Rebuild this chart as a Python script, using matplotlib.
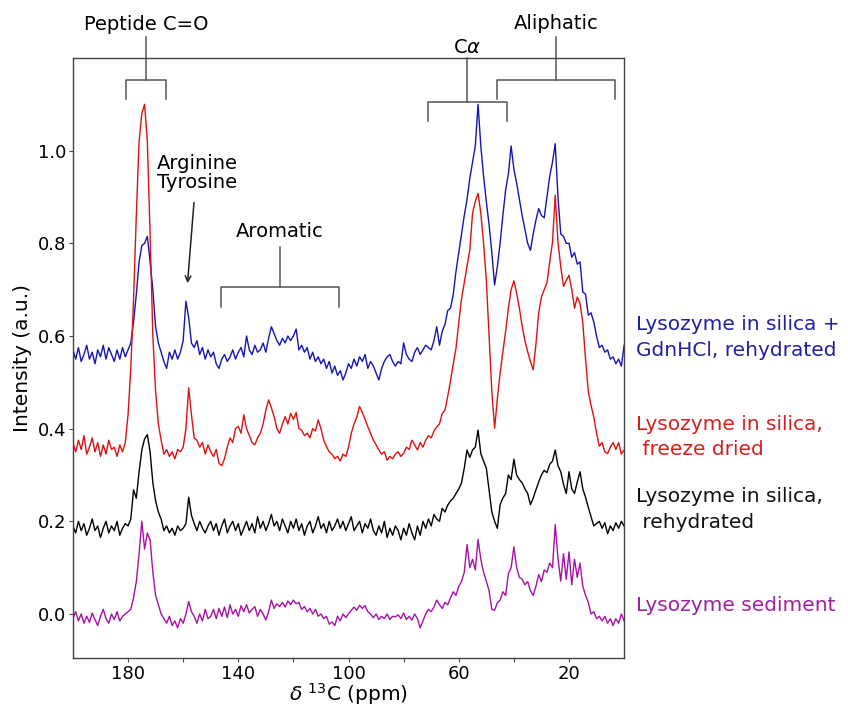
import numpy as np
import matplotlib
matplotlib.use("Agg")
import matplotlib.pyplot as plt
import matplotlib.transforms as mtransforms

plt.rcParams['font.family'] = ['DejaVu Sans']

# chemical shift grid (ppm), 200 -> 0
ppm = np.arange(200, -1, -1)

gdn_rehydrated = [
    0.57, 0.55, 0.575, 0.545, 0.56, 0.58, 0.55, 0.565, 0.54, 0.57,
    0.555, 0.58, 0.55, 0.575, 0.56, 0.545, 0.57, 0.55, 0.575, 0.555,
    0.57, 0.585, 0.63, 0.69, 0.76, 0.795, 0.80, 0.815, 0.76, 0.70,
    0.62, 0.585, 0.565, 0.545, 0.53, 0.565, 0.55, 0.57, 0.55, 0.565,
    0.59, 0.675, 0.64, 0.585, 0.575, 0.59, 0.56, 0.575, 0.55, 0.57,
    0.555, 0.565, 0.54, 0.53, 0.55, 0.56, 0.545, 0.555, 0.57, 0.55,
    0.565, 0.575, 0.555, 0.60, 0.57, 0.56, 0.58, 0.565, 0.57, 0.585,
    0.565, 0.595, 0.62, 0.605, 0.59, 0.58, 0.595, 0.585, 0.60, 0.59,
    0.60, 0.615, 0.57, 0.58, 0.565, 0.575, 0.55, 0.565, 0.545, 0.555,
    0.54, 0.55, 0.53, 0.545, 0.52, 0.535, 0.515, 0.525, 0.505, 0.52,
    0.54, 0.53, 0.55, 0.535, 0.555, 0.545, 0.56, 0.53, 0.545, 0.535,
    0.52, 0.505, 0.53, 0.545, 0.555, 0.56, 0.545, 0.535, 0.545, 0.54,
    0.585, 0.56, 0.55, 0.545, 0.565, 0.575, 0.56, 0.57, 0.58, 0.575,
    0.57, 0.59, 0.62, 0.58, 0.61, 0.625, 0.655, 0.66, 0.69, 0.74,
    0.78, 0.82, 0.86, 0.895, 0.94, 0.975, 1.01, 1.10, 1.01, 0.945,
    0.89, 0.84, 0.78, 0.71, 0.75, 0.80, 0.86, 0.915, 0.95, 1.01,
    0.96, 0.93, 0.895, 0.86, 0.83, 0.80, 0.785, 0.82, 0.85, 0.875,
    0.86, 0.855, 0.90, 0.945, 0.975, 1.015, 0.90, 0.82, 0.815, 0.80,
    0.80, 0.77, 0.78, 0.755, 0.76, 0.695, 0.69, 0.645, 0.65, 0.63,
    0.60, 0.575, 0.58, 0.565, 0.57, 0.55, 0.555, 0.54, 0.55, 0.535,
    0.58,
]

freeze_dried = [
    0.37, 0.35, 0.375, 0.355, 0.385, 0.345, 0.36, 0.38, 0.35, 0.37,
    0.34, 0.365, 0.345, 0.375, 0.355, 0.36, 0.34, 0.365, 0.35, 0.37,
    0.43, 0.53, 0.68, 0.86, 1.02, 1.08, 1.10, 1.02, 0.82, 0.60,
    0.48, 0.41, 0.375, 0.345, 0.355, 0.34, 0.35, 0.335, 0.355, 0.35,
    0.36, 0.40, 0.488, 0.43, 0.38, 0.375, 0.36, 0.37, 0.345, 0.365,
    0.35, 0.34, 0.355, 0.325, 0.32, 0.335, 0.36, 0.38, 0.37, 0.40,
    0.405, 0.39, 0.43, 0.40, 0.385, 0.37, 0.365, 0.38, 0.39, 0.41,
    0.44, 0.462, 0.445, 0.426, 0.40, 0.39, 0.41, 0.426, 0.41, 0.433,
    0.42, 0.435, 0.40, 0.397, 0.385, 0.39, 0.38, 0.40, 0.395, 0.419,
    0.40, 0.375, 0.361, 0.35, 0.345, 0.335, 0.34, 0.33, 0.345, 0.34,
    0.36, 0.39, 0.41, 0.425, 0.448, 0.435, 0.42, 0.404, 0.39, 0.375,
    0.365, 0.354, 0.345, 0.35, 0.332, 0.34, 0.335, 0.345, 0.35, 0.34,
    0.347, 0.36, 0.355, 0.375, 0.365, 0.354, 0.37, 0.36, 0.375, 0.385,
    0.38, 0.395, 0.404, 0.41, 0.433, 0.44, 0.47, 0.503, 0.54, 0.574,
    0.629, 0.68, 0.715, 0.75, 0.786, 0.865, 0.89, 0.908, 0.865, 0.80,
    0.72, 0.60, 0.48, 0.401, 0.464, 0.52, 0.566, 0.61, 0.66, 0.70,
    0.719, 0.692, 0.66, 0.621, 0.59, 0.566, 0.545, 0.527, 0.582, 0.65,
    0.684, 0.70, 0.715, 0.76, 0.802, 0.904, 0.802, 0.75, 0.707, 0.72,
    0.731, 0.70, 0.66, 0.684, 0.67, 0.629, 0.55, 0.48, 0.45, 0.425,
    0.39, 0.362, 0.37, 0.35, 0.346, 0.36, 0.37, 0.355, 0.37, 0.345,
    0.354,
]

silica_rehydrated = [
    0.19, 0.175, 0.2, 0.18, 0.195, 0.17, 0.185, 0.205, 0.18, 0.19,
    0.165, 0.185, 0.2, 0.175, 0.19, 0.18, 0.2, 0.17, 0.185, 0.195,
    0.19, 0.205, 0.268, 0.25, 0.307, 0.354, 0.378, 0.387, 0.35, 0.283,
    0.244, 0.22, 0.205, 0.18, 0.19, 0.175, 0.185, 0.17, 0.19, 0.18,
    0.185, 0.195, 0.252, 0.213, 0.195, 0.18, 0.2, 0.185, 0.175, 0.19,
    0.2, 0.18, 0.195, 0.17, 0.19, 0.205, 0.175, 0.19, 0.2, 0.18,
    0.195, 0.17, 0.185, 0.2, 0.18, 0.195, 0.175, 0.21, 0.185, 0.2,
    0.18, 0.195, 0.215, 0.19, 0.2, 0.18, 0.205, 0.19, 0.175, 0.2,
    0.185, 0.205, 0.18, 0.195, 0.17, 0.19, 0.2, 0.175, 0.19, 0.21,
    0.185, 0.195, 0.175, 0.2, 0.18, 0.19, 0.205, 0.185, 0.2, 0.18,
    0.195, 0.21, 0.18, 0.19, 0.2, 0.175, 0.195, 0.185, 0.205, 0.18,
    0.17, 0.19, 0.175, 0.2, 0.165, 0.185, 0.17, 0.19, 0.18, 0.16,
    0.185, 0.17, 0.195, 0.175, 0.16, 0.19, 0.17, 0.2, 0.185, 0.205,
    0.19, 0.215, 0.205, 0.2, 0.228, 0.22, 0.235, 0.244, 0.25, 0.26,
    0.27, 0.283, 0.315, 0.354, 0.338, 0.354, 0.36, 0.397, 0.346, 0.33,
    0.315, 0.268, 0.22, 0.2, 0.185, 0.236, 0.25, 0.26, 0.3, 0.29,
    0.334, 0.3, 0.29, 0.283, 0.27, 0.26, 0.236, 0.25, 0.268, 0.285,
    0.3, 0.31, 0.305, 0.323, 0.33, 0.354, 0.32, 0.307, 0.28, 0.26,
    0.307, 0.27, 0.26, 0.285, 0.307, 0.27, 0.252, 0.23, 0.21, 0.19,
    0.195, 0.2, 0.185, 0.197, 0.173, 0.19, 0.18, 0.197, 0.185, 0.2,
    0.19,
]

sediment = [
    -0.01, 0.005, -0.015, 0.0, -0.02, -0.005, -0.018, 0.002, -0.012, -0.025,
    -0.005, 0.01, -0.01, -0.02, 0.0, -0.012, 0.005, -0.015, -0.005, 0.0,
    0.005, 0.01, 0.035, 0.07, 0.13, 0.20, 0.14, 0.175, 0.16, 0.09,
    0.04, 0.02, 0.0, -0.01, -0.02, -0.005, -0.025, -0.015, -0.03, -0.01,
    -0.02, 0.0, 0.027, 0.005, -0.005, -0.02, 0.0, -0.015, 0.01, -0.01,
    -0.005, 0.01, -0.01, 0.012, -0.005, 0.015, -0.008, 0.02, 0.0, 0.01,
    -0.005, 0.018, 0.005, 0.02, 0.002, 0.01, 0.016, -0.005, 0.01, 0.0,
    -0.013, 0.005, 0.03, 0.012, 0.022, 0.016, 0.025, 0.015, 0.028, 0.02,
    0.03, 0.022, 0.025, 0.01, 0.016, 0.005, 0.012, 0.0, 0.01, -0.005,
    0.0, -0.01, -0.005, -0.022, -0.017, -0.025, -0.005, -0.015, 0.0, -0.008,
    0.0, 0.008, 0.015, 0.008, 0.019, 0.012, 0.018, 0.005, 0.0, -0.008,
    0.0, -0.012, -0.005, -0.01, 0.0, -0.012, -0.005, -0.006, -0.002, -0.01,
    0.002, -0.012, -0.005, -0.013, 0.0, -0.01, -0.03, -0.015, 0.0, 0.01,
    0.005, 0.015, 0.03, 0.02, 0.012, 0.025, 0.02, 0.035, 0.048, 0.04,
    0.06, 0.07, 0.09, 0.15, 0.10, 0.118, 0.095, 0.161, 0.118, 0.09,
    0.071, 0.05, 0.01, 0.008, 0.024, 0.03, 0.048, 0.04, 0.087, 0.1,
    0.145, 0.1, 0.079, 0.075, 0.063, 0.07, 0.05, 0.04, 0.06, 0.085,
    0.07, 0.095, 0.09, 0.11, 0.1, 0.193, 0.12, 0.071, 0.13, 0.075,
    0.134, 0.063, 0.118, 0.079, 0.11, 0.06, 0.04, 0.025, 0.0, 0.005,
    -0.01, -0.005, -0.015, -0.005, -0.02, -0.01, -0.025, -0.01, -0.02, 0.0,
    -0.015,
]

series_names = ["Lysozyme in silica +\nGdnHCl, rehydrated",
                "Lysozyme in silica,\n freeze dried",
                "Lysozyme in silica,\n rehydrated",
                "Lysozyme sediment"]
series_label_y = [0.596, 0.382, 0.225, 0.019]
x_tick_values = [180, 160, 140, 120, 100, 80, 60, 40, 20]
x_tick_labels = ["180", "", "140", "", "100", "", "60", "", "20"]
y_tick_values = [0.0, 0.2, 0.4, 0.6, 0.8, 1.0]

line_colors = ["#1414b4", "#e01010", "#000000", "#a810a8"]
text_colors = ["#2020a0", "#d42020", "#111111", "#a020a0"]

fig = plt.figure(figsize=(8.48, 7.07), dpi=100)
ax = fig.add_axes([0.086, 0.0693, 0.650, 0.8487])

for vals, c in zip([gdn_rehydrated, freeze_dried, silica_rehydrated, sediment], line_colors):
    ax.plot(ppm, vals, color=c, lw=1.0)

ax.set_xlim(200, 0)
ax.set_ylim(-0.095, 1.20)
ax.set_xticks(x_tick_values)
ax.set_xticklabels(x_tick_labels)
ax.set_yticks(y_tick_values)
ax.set_yticklabels([f"{v:.1f}" for v in y_tick_values])
ax.tick_params(labelsize=13, length=3.0, color="#444444", pad=2)
for s in ax.spines.values():
    s.set_color("#444444")
    s.set_linewidth(1.0)

ax.set_xlabel(r"$\delta$ $^{13}$C (ppm)", fontsize=14.5, labelpad=-1)
ax.set_ylabel("Intensity (a.u.)", fontsize=14.5, labelpad=4)

trans = mtransforms.blended_transform_factory(ax.transAxes, ax.transData)
for name, yy, c in zip(series_names, series_label_y, text_colors):
    ax.text(1.022, yy, name, transform=trans, color=c, fontsize=14.5,
            ha="left", va="center", linespacing=1.45, clip_on=False)

bk = "#555555"
def bracket(x1, x2, ybar, yleg, xstem, ytop):
    ax.plot([x1, x1, x2, x2], [yleg, ybar, ybar, yleg], color=bk, lw=1.1, clip_on=False)
    ax.plot([xstem, xstem], [ybar, ytop], color=bk, lw=1.1, clip_on=False)

bracket(180.7, 166.2, 1.153, 1.112, 173.5, 1.246)
bracket(71.3, 42.5, 1.104, 1.063, 57.1, 1.20)
bracket(46.2, 3.3, 1.153, 1.112, 24.7, 1.246)
bracket(146.2, 103.6, 0.706, 0.663, 124.9, 0.793)

fs_ann = 14
ax.text(173.5, 1.272, "Peptide C=O", fontsize=fs_ann, ha="center", va="center", clip_on=False)
ax.text(57.1, 1.222, r"C$\alpha$", fontsize=fs_ann, ha="center", va="center", clip_on=False)
ax.text(24.7, 1.274, "Aliphatic", fontsize=fs_ann, ha="center", va="center", clip_on=False)
ax.text(124.9, 0.825, "Aromatic", fontsize=fs_ann, ha="center", va="center")
ax.text(169.5, 0.952, "Arginine\nTyrosine", fontsize=fs_ann, ha="left", va="center", linespacing=1.0)
ax.annotate("", xy=(158.5, 0.708), xytext=(156.0, 0.894),
            arrowprops=dict(arrowstyle="->", color="#222222", lw=1.1))

fig.savefig("out.png", dpi=100)
